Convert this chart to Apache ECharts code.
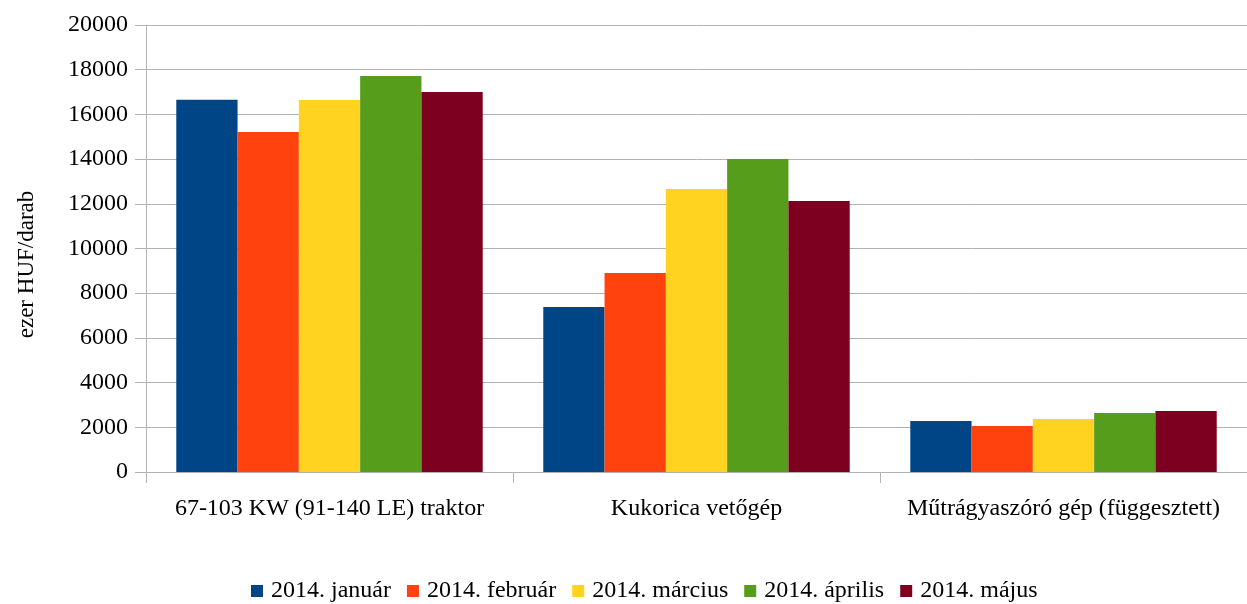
<!DOCTYPE html>
<html>
<head>
<meta charset="utf-8">
<script src="https://cdn.jsdelivr.net/npm/echarts@6/dist/echarts.min.js"></script>
<style>
  html, body { margin: 0; padding: 0; background: #fff; }
  #chart { width: 1247px; height: 604px; }
</style>
</head>
<body>
<div id="chart"></div>
<script>
const categories = ["67-103 KW (91-140 LE) traktor", "Kukorica vetőgép", "Műtrágyaszóró gép (függesztett)"];
const seriesNames = ["2014. január", "2014. február", "2014. március", "2014. április", "2014. május"];
const january = [16650, 7380, 2280];
const february = [15210, 8900, 2060];
const march = [16640, 12660, 2370];
const april = [17720, 14000, 2640];
const may = [17000, 12120, 2730];
const colors = ["#004586", "#ff420e", "#ffd320", "#579d1c", "#7e0021"];

const font = "'Liberation Serif', 'DejaVu Serif', serif";
const values = [january, february, march, april, may];

const chart = echarts.init(document.getElementById("chart"));

chart.setOption({
  animation: false,
  color: colors,
  grid: { left: 146, right: -7, top: 25, bottom: 132 },
  legend: {
    top: 574,
    left: 246,
    itemWidth: 12,
    itemHeight: 12,
    itemGap: 16,
    icon: "rect",
    textStyle: { fontFamily: font, fontSize: 24, color: "#000", padding: [0, 0, 0, 3] },
    data: seriesNames
  },
  xAxis: {
    type: "category",
    data: categories,
    axisLine: { lineStyle: { color: "#b3b3b3", width: 1 } },
    axisTick: { show: true, interval: 0, length: 11, lineStyle: { color: "#b3b3b3" } },
    axisLabel: { interval: 0, fontFamily: font, fontSize: 24, color: "#000", margin: 25 }
  },
  yAxis: {
    type: "value",
    min: 0,
    max: 20000,
    interval: 2000,
    name: "ezer HUF/darab",
    nameLocation: "middle",
    nameGap: 108,
    nameTextStyle: { fontFamily: font, fontSize: 23, color: "#000", padding: [0, 32, 0, 0] },
    axisLine: { show: true, lineStyle: { color: "#b3b3b3" } },
    axisTick: { show: true, length: 11, lineStyle: { color: "#b3b3b3" } },
    axisLabel: {
      fontFamily: font, fontSize: 24, color: "#000", margin: 18,
      formatter: (v) => String(v)
    },
    splitLine: { lineStyle: { color: "#b3b3b3", width: 1 } }
  },
  series: seriesNames.map((name, i) => ({
    name: name,
    type: "bar",
    data: values[i],
    barGap: "0%",
    barCategoryGap: "16.5%"
  }))
});
</script>
</body>
</html>
